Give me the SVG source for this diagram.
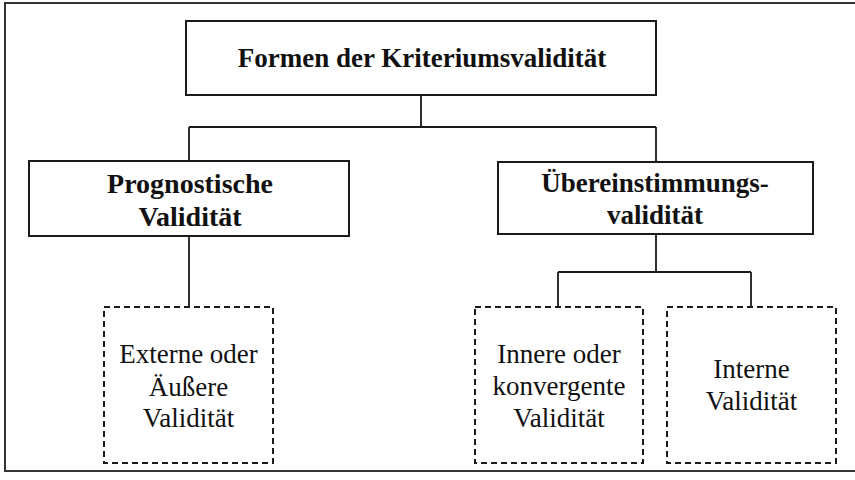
<svg xmlns="http://www.w3.org/2000/svg" width="855" height="480" viewBox="0 0 855 480">
<style>
.box{fill:#fff;stroke:#1a1a1a;stroke-width:2}
.dbox{fill:#fff;stroke:#1a1a1a;stroke-width:2;stroke-dasharray:6 4}
.conn{fill:none;stroke:#1a1a1a;stroke-width:1.8}
.frame{fill:none;stroke:#333;stroke-width:2}
.tb{font-family:"Liberation Serif","Times New Roman",serif;font-weight:bold;font-size:27px;fill:#111;text-anchor:middle}
.tr{font-family:"Liberation Serif","Times New Roman",serif;font-size:27px;fill:#111;text-anchor:middle}
</style>
<rect width="855" height="480" fill="#fff"/>
<path class="frame" d="M855,3 H5 V471 H855"/>
<g id="connectors">
<path class="conn" d="M421,95 V127 M189,127 H656 M189,127 V161 M656,127 V162"/>
<path class="conn" d="M189,236 V307"/>
<path class="conn" d="M656,234 V272 M558,272 H751 M558,272 V307 M751,272 V307"/>
</g>
<g id="root">
<rect class="box" x="186" y="21" width="470" height="74"/>
<text class="tb" x="422" y="67">Formen der Kriteriumsvalidität</text>
</g>
<g id="prognostisch">
<rect class="box" x="29" y="161" width="320" height="75"/>
<text class="tb" x="190" y="193" style="font-size:28px">Prognostische</text>
<text class="tb" x="190" y="226" style="font-size:28px">Validität</text>
</g>
<g id="uebereinstimmung">
<rect class="box" x="498" y="162" width="315" height="72"/>
<text class="tb" x="655" y="192">Übereinstimmungs-</text>
<text class="tb" x="655" y="224">validität</text>
</g>
<g id="extern">
<rect class="dbox" x="104" y="307" width="169" height="156"/>
<text class="tr" x="188.5" y="363">Externe oder</text>
<text class="tr" x="188.5" y="396">Äußere</text>
<text class="tr" x="188.5" y="427">Validität</text>
</g>
<g id="innere">
<rect class="dbox" x="475" y="307" width="168" height="156"/>
<text class="tr" x="559" y="363">Innere oder</text>
<text class="tr" x="559" y="395">konvergente</text>
<text class="tr" x="559" y="427">Validität</text>
</g>
<g id="interne">
<rect class="dbox" x="667" y="307" width="169" height="156"/>
<text class="tr" x="751.5" y="378">Interne</text>
<text class="tr" x="751.5" y="410">Validität</text>
</g>
</svg>
